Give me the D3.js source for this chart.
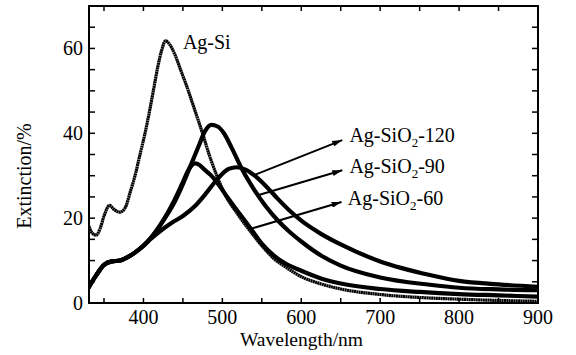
<!DOCTYPE html>
<html>
<head>
<meta charset="utf-8">
<script src="https://cdn.jsdelivr.net/npm/d3@7"></script>
<style>
body { margin: 0; background: white; }
svg text { font-family: "Liberation Serif", "Times New Roman", serif; fill: black; }
</style>
</head>
<body>
<svg id="chart" width="576" height="355"></svg>
<script>
// data: wavelength (nm) and extinction (%)
var agsi_wl = [330,335,340,345,350,357,363,370,377,383,390,395,402,408,413,418,423,428,433,440,447,455,465,474,485,493,505,518,535,550,565,580,600,625,650,700,750,800,850,900];
var agsi_ext = [18.5,16.5,16,17.5,20.5,23,22,21.4,22.5,26,30.5,34.5,40,45.5,50.5,55.5,59.5,61.8,61,58.5,55,51,45.5,40.5,34,30,25,21.3,17,13.5,10.5,8.5,6.2,4.5,3.3,2,1.3,0.9,0.6,0.4];

var sio2_60_wl = [330,340,350,360,370,380,390,400,410,420,430,440,450,456,461,466,471,477,485,493,505,518,535,550,565,580,600,625,650,700,750,800,850,900];
var sio2_60_ext = [3.5,6.5,9,9.8,10,10.8,12,13.5,15.5,18,21,24.5,28.5,31,32.4,32.9,32.5,31.5,30.2,28.5,25.3,22,17.8,14,11.2,9.3,7.6,5.8,4.6,3.3,2.6,2.1,1.8,1.5];

var sio2_90_wl = [330,340,350,360,370,380,390,400,410,420,430,440,450,460,470,478,486,494,502,512,525,540,555,570,585,600,625,650,700,763,800,850,900];
var sio2_90_ext = [3.5,6.5,9,9.8,10,10.8,12,13.5,15.5,18,20.8,24,28,32.5,37,40.5,42,41.6,40,36.5,31.5,26.8,22.8,19.5,16.8,14.5,11.2,8.8,6,4.3,3.6,3.2,3.0];

var sio2_120_wl = [330,340,350,360,370,380,390,400,410,423,435,450,465,480,495,508,518,530,541,555,570,585,600,625,650,700,763,800,850,900];
var sio2_120_ext = [3.5,6.5,9,9.8,10,10.8,12,13.5,15.2,17.2,18.8,20.5,22.8,26,29.5,31.6,32,31.4,30,27.6,24.6,21.8,19.4,16.3,13.8,9.8,6.6,5.2,4.4,3.8];

var x_ticks = [400,500,600,700,800,900];
var x_minor = [350,450,550,650,750,850];
var y_ticks = [0,20,40,60];

// annotations: [label, text x, text y, arrow from x, from y, arrow to x, to y]
var labels = [
    ["120", 661, 37.9, 541, 30.2, 652, 38.4],
    ["90", 661, 30.6, 545, 25.4, 652, 31.3],
    ["60", 659, 23.1, 538, 17.6, 651, 23.8]
];

var margin = {left: 89, top: 6, right: 38, bottom: 52};
var width = 576 - margin.left - margin.right;
var height = 355 - margin.top - margin.bottom;

var svg = d3.select("#chart");
var defs = svg.append("defs");
defs.append("marker").attr("id", "head")
    .attr("viewBox", "0 0 10 6").attr("refX", 10).attr("refY", 3)
    .attr("markerWidth", 10).attr("markerHeight", 6)
    .attr("markerUnits", "userSpaceOnUse").attr("orient", "auto")
  .append("path").attr("d", "M0,0L10,3L0,6Z").attr("fill", "black");

var g = svg.append("g").attr("transform", "translate(" + margin.left + "," + margin.top + ")");

var x = d3.scaleLinear().domain([331, 900]).range([0, width]);
var y = d3.scaleLinear().domain([0, 70]).range([height, 0]);

var line = d3.line()
    .x(function(d) { return x(d[0]); })
    .y(function(d) { return y(d[1]); })
    .curve(d3.curveMonotoneX);

function pairs(wl, ext) {
    return wl.map(function(w, i) { return [w, ext[i]]; });
}

g.append("clipPath").attr("id", "clip")
  .append("rect").attr("width", width).attr("height", height);

var curves = g.append("g").attr("clip-path", "url(#clip)");
[[sio2_60_wl, sio2_60_ext], [sio2_90_wl, sio2_90_ext], [sio2_120_wl, sio2_120_ext]].forEach(function(s) {
    curves.append("path").attr("d", line(pairs(s[0], s[1])))
        .attr("fill", "none").attr("stroke", "black").attr("stroke-width", 4.2)
        .attr("stroke-linejoin", "round");
});
// Ag-Si is drawn with dense little markers, so it looks serrated
curves.append("path").attr("d", line(pairs(agsi_wl, agsi_ext)))
    .attr("fill", "none").attr("stroke", "black").attr("stroke-width", 3.2)
    .attr("stroke-dasharray", "2 0.35");

// frame and ticks, all pointing inward
var axes = g.append("g").attr("stroke", "black").attr("stroke-width", 1.5);
x_ticks.concat(x_minor).forEach(function(t) {
    axes.append("line").attr("x1", x(t)).attr("x2", x(t)).attr("y1", height).attr("y2", height - 5);
    axes.append("line").attr("x1", x(t)).attr("x2", x(t)).attr("y1", 0).attr("y2", 5);
});
d3.range(5, 70, 5).forEach(function(t) {
    axes.append("line").attr("x1", 0).attr("x2", 6).attr("y1", y(t)).attr("y2", y(t));
    axes.append("line").attr("x1", width).attr("x2", width - 6).attr("y1", y(t)).attr("y2", y(t));
});
g.append("rect").attr("width", width).attr("height", height)
    .attr("fill", "none").attr("stroke", "black").attr("stroke-width", 2);

g.selectAll(".xl").data(x_ticks).enter().append("text")
    .attr("x", function(d) { return x(d); }).attr("y", height + 21)
    .attr("text-anchor", "middle").attr("font-size", 20).text(function(d) { return d; });
g.selectAll(".yl").data(y_ticks).enter().append("text")
    .attr("x", -6).attr("y", function(d) { return y(d) + 7; })
    .attr("text-anchor", "end").attr("font-size", 20).text(function(d) { return d; });

g.append("text").attr("x", width / 2 - 12).attr("y", height + 43)
    .attr("text-anchor", "middle").attr("font-size", 19.5).text("Wavelength/nm");
svg.append("text").attr("transform", "translate(31,176) rotate(-90)")
    .attr("text-anchor", "middle").attr("font-size", 20).text("Extinction/%");

g.append("text").attr("x", x(450)).attr("y", y(59.8)).attr("font-size", 20).text("Ag-Si");

labels.forEach(function(l) {
    g.append("line").attr("x1", x(l[3])).attr("y1", y(l[4]))
        .attr("x2", x(l[5])).attr("y2", y(l[6]))
        .attr("stroke", "black").attr("stroke-width", 2).attr("marker-end", "url(#head)");
    var t = g.append("text").attr("x", x(l[1])).attr("y", y(l[2])).attr("font-size", 20);
    t.append("tspan").text("Ag-SiO");
    t.append("tspan").attr("font-size", 13).attr("dy", 5).text("2");
    t.append("tspan").attr("dy", -5).text("-" + l[0]);
});
</script>
</body>
</html>
